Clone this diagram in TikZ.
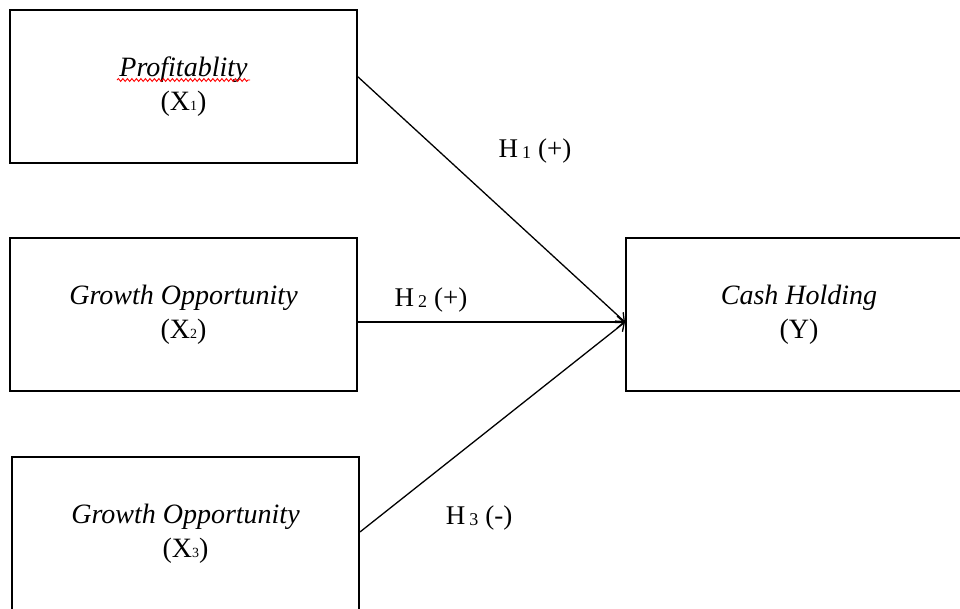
\documentclass[tikz,border=0pt]{standalone}
\usepackage{fontspec}
\setmainfont{Liberation Serif}
\usetikzlibrary{arrows.meta,calc,decorations.pathmorphing}
\newcommand\varsub[1]{{\fontsize{14}{14}\selectfont #1}}
\newcommand\hsub[1]{\hspace{4pt}\raisebox{-1pt}{\fontsize{18}{18}\selectfont #1}\hspace{7pt}}
\begin{document}
\begin{tikzpicture}[x=1pt,y=-1pt,
  varbox/.style={draw, line width=2pt, minimum width=347pt, minimum height=153pt,
    inner sep=0pt, align=center, font=\fontsize{28}{34}\selectfont},
  hyp/.style={font=\fontsize{27}{34}\selectfont, anchor=base, inner sep=0pt},
  link/.style={line width=1.3pt, -{Straight Barb[length=7pt,width=12pt,line width=1.3pt]}}]
\useasboundingbox[fill=white] (0,0) rectangle (960,608);

\node[varbox] (x1) at (183.5,86.5) {\textit{Profitablity}\\(X\varsub{1})};
\node[varbox] (x2) at (183.5,314.5) {\textit{Growth Opportunity}\\(X\varsub{2})};
\node[varbox] (x3) at (185.5,533.5) {\textit{Growth Opportunity}\\(X\varsub{3})};
\node[varbox, minimum width=346pt] (y) at (799,314.5) {\textit{Cash Holding}\\(Y)};

\draw[red, line width=0.9pt, decorate,
  decoration={snake, segment length=4.5pt, amplitude=1.4pt}] (117,80) -- (250,80);

\coordinate (s1) at ($(x1.north east)!0.438!(x1.south east)$);
\coordinate (s2) at ($(x2.north east)!0.549!(x2.south east)$);
\coordinate (s3) at ($(x3.north east)!0.49!(x3.south east)$);
\coordinate (t) at ($(y.north west)!0.549!(y.south west)$);

\draw[link] (s1) -- (t);
\draw[link] (s2) -- (t);
\draw[link] (s3) -- (t);

\node[hyp] (h1) at (535,157) {H\hsub{1}(+)};
\node[hyp] (h2) at (431,306) {H\hsub{2}(+)};
\node[hyp] (h3) at (479,524) {H\hsub{3}(-)};
\end{tikzpicture}
\end{document}
